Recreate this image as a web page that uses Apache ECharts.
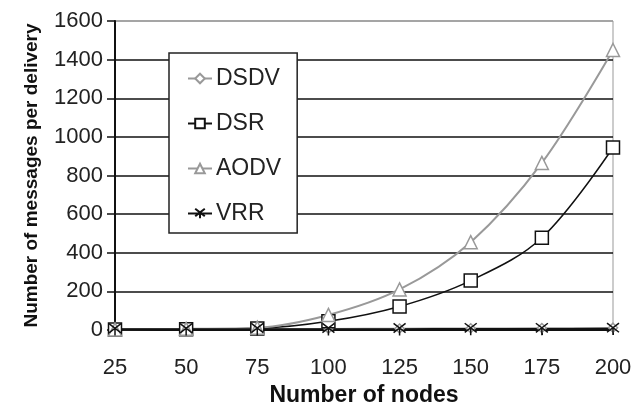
<!DOCTYPE html>
<html>
<head>
<meta charset="utf-8">
<script src="https://cdn.jsdelivr.net/npm/echarts@6/dist/echarts.min.js"></script>
<style>
  html, body { margin: 0; padding: 0; background: #fff; }
  #chart { width: 639px; height: 409px; }
</style>
</head>
<body>
<div id="chart"></div>
<script>
// Routing protocol overhead vs. network size
const nodeCounts = ['25', '50', '75', '100', '125', '150', '175', '200'];
const dsdv = [4, 5, 6, 7, 8, 9, 10, 12];
const dsr  = [2, 4, 8, 45, 122, 256, 478, 945];
const aodv = [3, 6, 12, 78, 210, 455, 865, 1450];
const vrr  = [2, 2, 3, 3, 3, 4, 4, 5];

const FONT = '"Liberation Sans", Arial, Helvetica, sans-serif';
const crossSymbol = 'path://M0,0L10,10M10,0L0,10M5,5L5,13';

const chart = echarts.init(document.getElementById('chart'), null, { renderer: 'canvas' });

function lineSeries(name, data, color, symbol, size, width) {
  return {
    name: name,
    type: 'line',
    data: data,
    smooth: 0.35,
    symbol: symbol,
    symbolSize: size,
    showAllSymbol: true,
    lineStyle: { color: color, width: width },
    itemStyle: { color: '#fff', borderColor: color, borderWidth: 1.5 },
    emphasis: { disabled: true },
    animation: false
  };
}

chart.setOption({
  backgroundColor: '#fff',
  animation: false,
  grid: {
    left: 115, right: 26, top: 21, bottom: 79,
    containLabel: false,
    outerBoundsMode: 'none',
    show: true, borderColor: '#999', borderWidth: 1, backgroundColor: 'transparent'
  },
  legend: {
    orient: 'vertical',
    left: 169, top: 53,
    padding: [14, 16, 8, 18],
    itemGap: 22,
    itemWidth: 24, itemHeight: 12,
    backgroundColor: '#fff',
    borderColor: '#222', borderWidth: 1.5,
    borderRadius: 0,
    textStyle: { fontFamily: FONT, fontSize: 23, color: '#222', padding: [0, 0, 0, -1] },
    data: ['DSDV', 'DSR', 'AODV', 'VRR']
  },
  xAxis: {
    type: 'category',
    data: nodeCounts,
    boundaryGap: false,
    name: 'Number of nodes',
    nameLocation: 'middle',
    nameGap: 52,
    nameTextStyle: { fontFamily: FONT, fontSize: 23, fontWeight: 'bold', color: '#111' },
    axisLine: { lineStyle: { color: '#111', width: 2 } },
    axisTick: { show: true, alignWithLabel: true, length: 5, lineStyle: { color: '#111' } },
    axisLabel: { fontFamily: FONT, fontSize: 22, color: '#222', margin: 27 },
    splitLine: { show: false }
  },
  yAxis: {
    type: 'value',
    min: 0, max: 1600, interval: 200,
    name: 'Number of messages per delivery',
    nameLocation: 'middle',
    nameGap: 74,
    nameTextStyle: { fontFamily: FONT, fontSize: 19, fontWeight: 'bold', color: '#111' },
    axisLine: { show: true, lineStyle: { color: '#111', width: 2 } },
    axisTick: { show: true, inside: false, length: 8, lineStyle: { color: '#111', width: 1.5 } },
    axisLabel: {
      fontFamily: FONT, fontSize: 22, color: '#222', margin: 12,
      formatter: function (v) { return String(v); }
    },
    splitLine: {
      show: true,
      lineStyle: {
        color: ['#111', '#111', '#111', '#111', '#111', '#111', '#111', '#111', '#999'],
        width: 1.5
      }
    }
  },
  series: [
    lineSeries('DSDV', dsdv, '#999', 'diamond', 9, 1.5),
    lineSeries('DSR', dsr, '#111', 'rect', 13, 1.5),
    lineSeries('AODV', aodv, '#999', 'triangle', 13, 2),
    lineSeries('VRR', vrr, '#111', crossSymbol, 12, 2.5)
  ]
});
</script>
</body>
</html>
